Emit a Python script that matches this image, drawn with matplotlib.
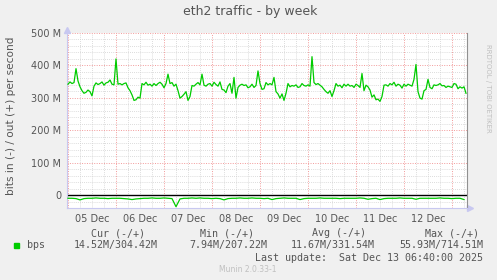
import matplotlib.pyplot as plt
import numpy as np

# out traffic (Mbit/s), one value per hour starting 05 Dec 00:00
out_vals = [
    342, 349, 344, 347, 390, 352, 334, 322, 314, 317, 324, 319, 306, 336, 346, 341,
    344, 349, 339, 346, 348, 355, 342, 340, 420, 342, 344, 340, 344, 346, 331, 322,
    309, 292, 294, 302, 299, 344, 340, 348, 339, 342, 336, 344, 338, 344, 348, 342,
    331, 344, 373, 344, 347, 336, 342, 322, 299, 304, 311, 319, 292, 304, 338, 336,
    342, 347, 340, 373, 339, 336, 342, 344, 336, 348, 341, 336, 349, 326, 324, 316,
    336, 344, 314, 363, 299, 332, 339, 342, 338, 340, 331, 334, 342, 332, 338, 383,
    344, 326, 328, 347, 340, 344, 340, 363, 319, 312, 299, 312, 292, 314, 344, 334,
    338, 336, 340, 332, 334, 344, 338, 336, 340, 336, 427, 347, 341, 344, 339, 334,
    326, 319, 314, 322, 304, 322, 344, 336, 339, 331, 342, 336, 342, 336, 338, 332,
    342, 338, 332, 375, 322, 339, 334, 324, 302, 309, 294, 296, 289, 304, 339, 340,
    336, 344, 340, 348, 336, 342, 339, 330, 342, 336, 342, 339, 336, 357, 403, 319,
    299, 296, 322, 326, 357, 332, 328, 340, 338, 340, 344, 337, 338, 332, 336, 334,
    332, 344, 342, 328, 334, 330, 334, 314,
]
out_hours = np.arange(len(out_vals))

# in traffic (Mbit/s), one value every two hours, drawn below zero
in_vals = [
    10, 10, 11, 15, 11, 10, 10, 9, 10, 10, 11, 10, 10, 10, 11, 12, 14, 12, 11, 10,
    10, 9, 10, 10, 9, 10, 11, 36, 12, 10, 10, 9, 10, 9, 10, 10, 11, 10, 11, 15,
    11, 10, 10, 9, 10, 10, 9, 10, 10, 11, 10, 14, 11, 10, 9, 10, 10, 10, 14, 11,
    10, 10, 10, 9, 10, 10, 10, 10, 11, 10, 10, 10, 10, 9, 10, 13, 11, 10, 14, 11,
    10, 10, 10, 9, 10, 10, 10, 13, 10, 10, 10, 10, 10, 9, 10, 10, 11, 10, 10, 14,
]
in_hours = np.arange(len(in_vals)) * 2

day_labels = ['05 Dec', '06 Dec', '07 Dec', '08 Dec', '09 Dec', '10 Dec', '11 Dec', '12 Dec']
y_major = [0, 100, 200, 300, 400, 500]
y_labels = ['0', '100 M', '200 M', '300 M', '400 M', '500 M']

legend_cols = ['Cur (-/+)', 'Min (-/+)', 'Avg (-/+)', 'Max (-/+)']
legend_vals = ['14.52M/304.42M', '7.94M/207.22M', '11.67M/331.54M', '55.93M/714.51M']

bg = '#F0F0F0'
green = '#00CC00'
txt = '#555555'

fig = plt.figure(figsize=(4.97, 2.8), dpi=100, facecolor=bg)
ax = fig.add_axes([67 / 497, 72 / 280, 400 / 497, 175 / 280])
ax.set_facecolor('white')
ax.set_xlim(-0.5, 199.5)
ax.set_ylim(-40, 500)

# grid
for h in range(0, 200, 6):
    if h % 24 == 0:
        ax.axvline(h, color='#F29A9A', lw=0.7, ls=(0, (1, 1.5)), zorder=1)
    else:
        ax.axvline(h, color='#D0D0D0', lw=0.6, ls=(0, (1, 1.5)), zorder=0)
for v in range(-40, 501, 20):
    if v == 0:
        continue
    if v % 100 == 0:
        ax.axhline(v, color='#F29A9A', lw=0.7, ls=(0, (1, 1.5)), zorder=1)
    else:
        ax.axhline(v, color='#D0D0D0', lw=0.6, ls=(0, (1, 1.5)), zorder=0)
ax.axhline(0, color='black', lw=1.0, zorder=2)

ax.plot(out_hours, out_vals, color=green, lw=0.9, zorder=3)
ax.plot(in_hours, -np.array(in_vals), color=green, lw=0.9, zorder=3)

ax.set_xticks([12 + 24 * i for i in range(len(day_labels))])
ax.set_xticklabels(day_labels)
ax.set_yticks(y_major)
ax.set_yticklabels(y_labels)
ax.tick_params(length=0, labelsize=7, colors=txt, pad=4)

ax.spines['top'].set_visible(False)
ax.spines['right'].set_color('#909090')
ax.spines['left'].set_color('#C8C8F0')
ax.spines['bottom'].set_color('#C8C8F0')
for s in ['left', 'bottom', 'right']:
    ax.spines[s].set_linewidth(0.8)

# axis arrows
ax.plot([1.008], [0], transform=ax.transAxes, marker='>', color='#C8C8F0', ms=4, clip_on=False)
ax.plot([0], [1.015], transform=ax.transAxes, marker='^', color='#C8C8F0', ms=4, clip_on=False)

fig.text(250 / 497, 1 - 12 / 280, 'eth2 traffic - by week', ha='center', va='center',
         fontsize=9, color=txt)
fig.text(11 / 497, 1 - 116 / 280, 'bits in (-) / out (+) per second', rotation=90,
         ha='center', va='center', fontsize=7.6, color=txt)
fig.text(488 / 497, 1 - 88 / 280, 'RRDTOOL / TOBI OETIKER', rotation=270,
         ha='center', va='center', fontsize=5, color='#C0C0C0')

mono = 'DejaVu Sans Mono'
col_x = [118, 227, 339, 452]
val_x = [158, 267, 375, 483]
for cx, label in zip(col_x, legend_cols):
    fig.text(cx / 497, 1 - 233 / 280, label, ha='center', va='center',
             fontsize=7.2, color=txt, family=mono)
for vx, val in zip(val_x, legend_vals):
    fig.text(vx / 497, 1 - 245 / 280, val, ha='right', va='center',
             fontsize=7.2, color=txt, family=mono)
fig.patches.append(plt.Rectangle((14 / 497, 1 - 248 / 280), 5 / 497, 5 / 280,
                                 transform=fig.transFigure, color=green))
fig.text(27 / 497, 1 - 245 / 280, 'bps', ha='left', va='center',
         fontsize=7.2, color=txt, family=mono)
fig.text(483 / 497, 1 - 258 / 280, 'Last update:  Sat Dec 13 06:40:00 2025',
         ha='right', va='center', fontsize=7.2, color=txt, family=mono)
fig.text(248 / 497, 1 - 269 / 280, 'Munin 2.0.33-1', ha='center', va='center',
         fontsize=5.5, color='#C0C0C0')

fig.savefig('out.png', dpi=100, facecolor=bg)
